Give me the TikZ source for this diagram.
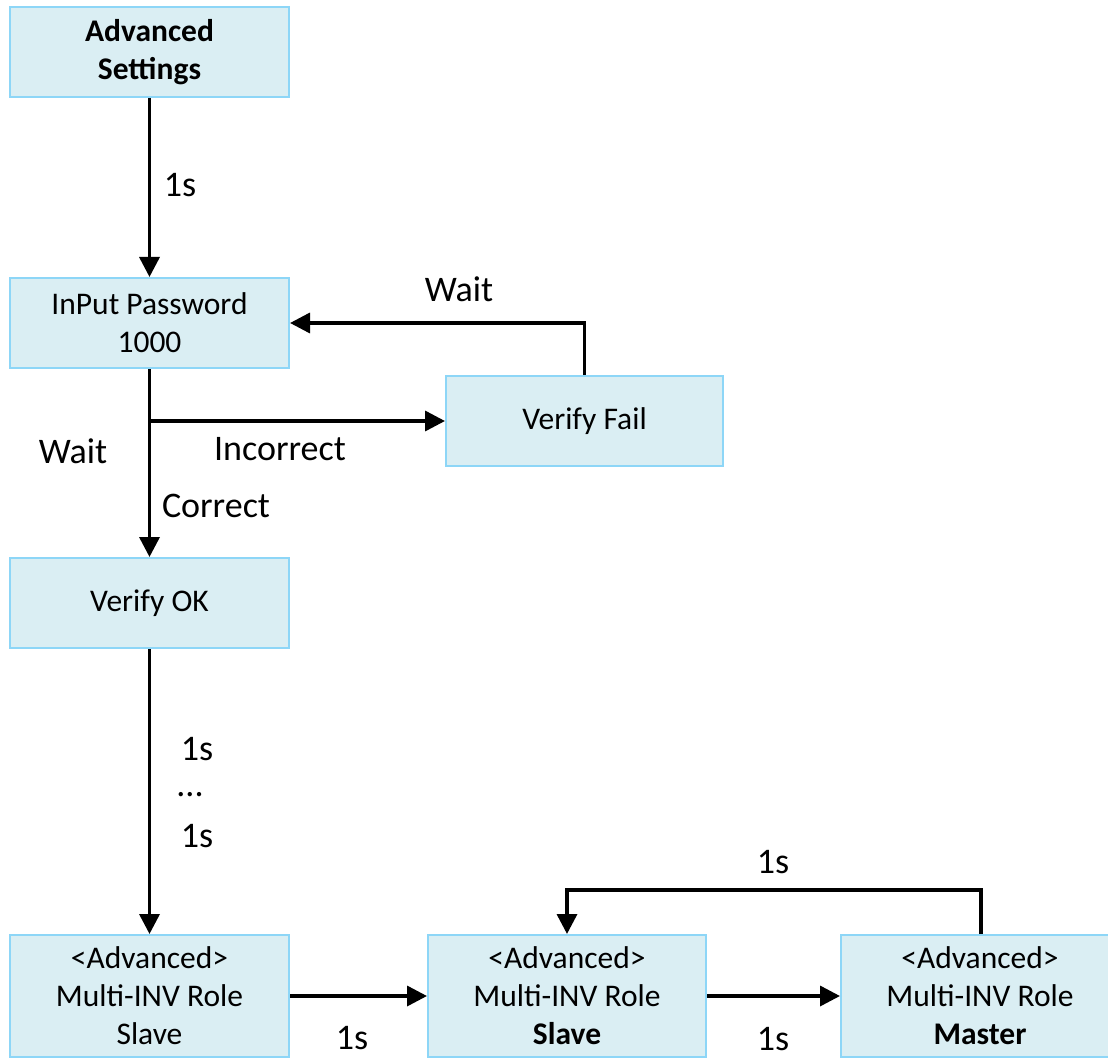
\documentclass[tikz,border=0pt]{standalone}
\usepackage{fontspec}
\setmainfont{Carlito}
\usetikzlibrary{arrows.meta}
\definecolor{boxfill}{HTML}{DAEEF3}
\definecolor{boxline}{HTML}{8DD6F7}
\begin{document}
\begin{tikzpicture}[x=1pt,y=-1pt,
  box/.style={draw=boxline,fill=boxfill,line width=2pt,minimum width=279pt,minimum height=90pt,align=center,inner sep=0pt,font=\fontsize{31.5}{38}\selectfont},
  tall/.style={box,minimum height=122pt},
  lbl/.style={font=\fontsize{36}{40}\selectfont,inner sep=0pt},
  conn/.style={line width=3.5pt},
  arr/.style={conn,-{Triangle[length=20pt,width=20pt]}}]
\clip (0,0) rectangle (1108,1059);
\fill[white] (0,0) rectangle (1108,1059);
\node[box] (adv) at (149.5,52) {\textbf{Advanced}\\\textbf{Settings}};
\node[box] (pwd) at (149.5,323) {InPut Password\\1000};
\node[box,minimum width=277pt] (fail) at (584.5,421) {Verify Fail};
\node[box] (ok) at (149.5,603) {Verify OK};
\node[tall] (r1) at (149.5,996) {<Advanced>\\Multi-INV Role\\Slave};
\node[tall,minimum width=278pt] (r2) at (567,996) {<Advanced>\\Multi-INV Role\\\textbf{Slave}};
\node[tall,minimum width=278pt] (r3) at (980,996) {<Advanced>\\Multi-INV Role\\\textbf{Master}};
\coordinate (split) at (pwd.south |- fail.west);
\coordinate (loopA) at (981,890);
\coordinate (loopB) at (567,890);
\draw[arr] (adv) -- (pwd);
\draw[arr] (pwd) -- (ok);
\draw[arr] (split) -- (fail.west);
\draw[arr] (fail.north) -- (fail.north |- pwd.east) -- (pwd.east);
\draw[arr] (ok) -- (r1);
\draw[arr] (r1) -- (r2);
\draw[arr] (r2) -- (r3);
\draw[arr] (r3.north -| loopA) -- (loopA) -- (loopB) -- (r2.north);
\node[lbl] (l1) at (180,185) {1s};
\node[lbl] (l2) at (459,289) {Wait};
\node[lbl] (l3) at (73,451) {Wait};
\node[lbl] (l4) at (280,449) {Incorrect};
\node[lbl] (l5) at (216,506) {Correct};
\node[lbl] (l6) at (197,749) {1s};
\node[lbl] (l7) at (190,795) {...};
\node[lbl] (l8) at (197,836) {1s};
\node[lbl] (l9) at (352,1038) {1s};
\node[lbl] (l10) at (773,1039) {1s};
\node[lbl] (l11) at (773,862) {1s};
\end{tikzpicture}
\end{document}
